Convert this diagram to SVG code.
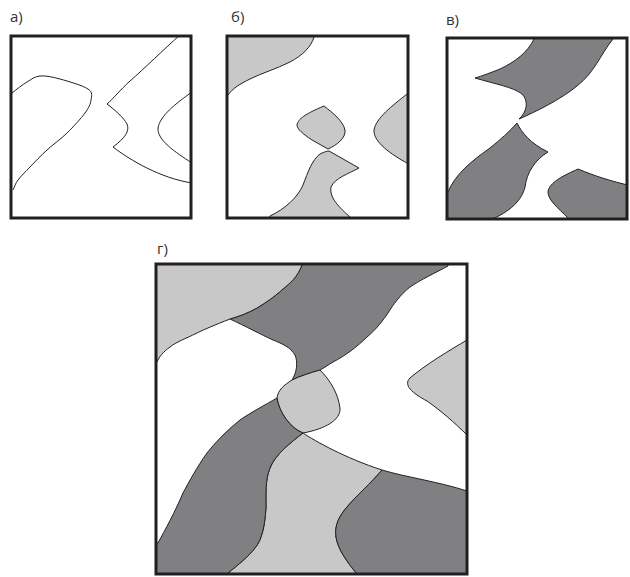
<svg xmlns="http://www.w3.org/2000/svg" width="630" height="577" viewBox="0 0 630 577">
<style>
.lbl{font-family:"Open Sans","Liberation Sans",sans-serif;font-size:15px;fill:#333}
.ln{fill:none;stroke:#222;stroke-width:1}
.lt{fill:#c8c8c8;stroke:#222;stroke-width:1}
.dk{fill:#808083;stroke:#222;stroke-width:1}
.frame{fill:none;stroke:#231f20;stroke-width:3}
</style>
<defs>
<clipPath id="ca"><rect x="11" y="36" width="180" height="182"/></clipPath>
<clipPath id="cb"><rect x="227" y="36" width="181" height="182"/></clipPath>
<clipPath id="cc"><rect x="447" y="38" width="180" height="181"/></clipPath>
<clipPath id="cd"><rect x="156" y="264" width="311" height="310"/></clipPath>
</defs>
<rect width="630" height="577" fill="#fff"/>

<g id="panel-a">
<text class="lbl" x="10" y="22">а)</text>
<g clip-path="url(#ca)">
<path class="ln" d="M12,93 C17,89 22.3,84.8 27,82 S34.5,76.5 40,76 S52,76.8 60,79 S82.8,85.5 88,89 S91.5,96 91,100 S89,107.5 85,113 S73.3,126.8 67,133 S53.2,144.3 47,150 S34.8,162 30,167 S20.8,176.2 18,180 S14.7,186.7 13,190"/>
<path class="ln" d="M180,35 C163,50 145,68 130,81 C120,90 113,99 107,104 C115,110 124,118 127,124 C130,131 125,138 113,147 C130,160 160,178 192,183"/>
<path class="ln" d="M192,92 C175,104 160,116 158,128 C157,140 175,152 192,163"/>
</g>
<rect class="frame" x="11" y="36" width="180" height="182"/>
</g>

<g id="panel-b">
<text class="lbl" x="231" y="22">б)</text>
<g clip-path="url(#cb)">
<path class="lt" d="M314,30 L314,37 C311,47 303,55 290,62 C276,69 262,73 250,79 C240,84 233,88 228,95 L220,95 L220,30 Z"/>
<path class="lt" d="M324,106 C333,113 343,121 345,130 C346,138 337,145 328,149 L312,140 C303,134 297,129 297,125 C298,119 305,114 324,106 Z"/>
<path class="lt" d="M412,92 L407,94 C392,106 376,118 374,130 C373,142 392,155 407,163 L412,163 Z"/>
<path class="lt" d="M268,222 L270,216 C285,209 298,197 303,185 C308,172 312,160 320,154 C324,152 327,151 329,151 L359,168 C348,174 335,178 331,187 C329,198 340,208 350,217 L350,222 Z"/>
</g>
<rect class="frame" x="227" y="36" width="181" height="182"/>
</g>

<g id="panel-c">
<text class="lbl" x="446" y="25">в)</text>
<g clip-path="url(#cc)">
<path class="dk" d="M534,32 L534,39 C528,52 515,62 500,69 C490,73 482,76 475,78 C495,84 513,87 522,94 C529,101 527,112 519,119 C535,112 560,100 577,86 C595,72 600,55 613,39 L613,32 Z"/>
<path class="dk" d="M517,123 C522,133 530,143 548,152 C535,160 527,172 525,187 C522,200 510,212 490,220 L440,222 L440,195 L448,192 C455,175 470,162 490,148 C500,140 510,131 517,123 Z"/>
<path class="dk" d="M578,169 C595,176 610,181 632,186 L632,224 L568,224 L568,218 C558,208 548,200 548,192 C549,182 565,175 578,169 Z"/>
</g>
<rect class="frame" x="447" y="38" width="180" height="181"/>
</g>

<g id="panel-d">
<text class="lbl" x="157" y="254">г)</text>
<g clip-path="url(#cd)">
<path class="dk" d="M302,258 L302,265 C297,278 290,283 283,289 C273,298 265,303 257,308 C248,313 240,316 230,319 C245,326 262,335 273,340 C283,344 290,347 295,355 C298,362 297,372 292,380 C300,376 310,373 320,370 C324,368 328,365 333,362 C345,356 358,346 367,337 C372,333 380,325 388,313 C393,305 400,295 410,287 C420,280 437,272 448,266 L448,258 Z"/>
<path class="lt" d="M302,258 L302,265 C297,278 290,283 283,289 C273,298 265,303 257,308 C248,313 240,316 230,319 C215,325 205,329 197,333 C185,339 176,342 170,347 C163,352 159,357 157,362 L150,362 L150,258 Z"/>
<path class="lt" d="M320,370 C330,380 338,393 340,408 C341,420 325,429 303,433 C290,428 279,412 277,398 C278,390 284,385 292,380 C300,376 310,373 320,370 Z"/>
<path class="lt" d="M303,433 C315,441 345,458 382,470 C372,482 355,497 347,507 C340,515 334,525 336,537 C338,550 348,563 357,574 L357,580 L228,580 L228,573 C238,565 248,557 255,548 C262,540 265,525 266,507 C266,495 265,480 270,468 C275,455 290,443 303,433 Z"/>
<path class="dk" d="M277,398 C279,412 290,428 303,433 C290,443 275,455 270,468 C265,480 266,495 266,507 C265,525 262,540 255,548 C248,557 238,565 228,573 L228,580 L150,580 L150,543 L158,543 C165,530 175,512 183,493 C190,480 197,467 207,453 C215,443 225,432 240,420 C250,413 265,405 277,398 Z"/>
<path class="dk" d="M382,470 C405,477 440,482 467,491 L475,491 L475,580 L357,580 L357,574 C348,563 338,550 336,537 C334,525 340,515 347,507 C355,497 372,482 382,470 Z"/>
<path class="lt" d="M475,340 L467,340 C450,350 425,365 410,378 C403,385 412,393 427,401 C440,410 455,423 467,435 L475,435 Z"/>
</g>
<rect class="frame" x="156" y="264" width="311" height="310"/>
</g>
</svg>
